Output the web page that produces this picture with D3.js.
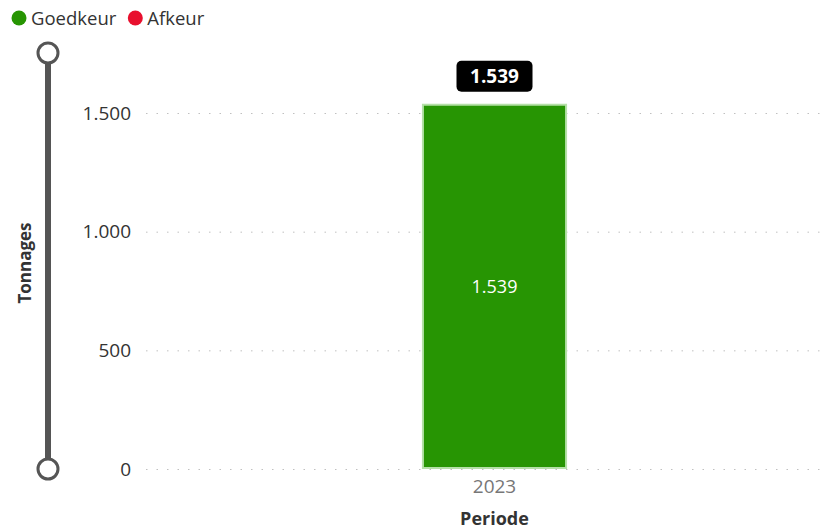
<!DOCTYPE html>
<html>
<head>
<meta charset="utf-8">
<script src="https://cdn.jsdelivr.net/npm/d3@7"></script>
<style>
  body { margin: 0; background: #fff; }
  svg { font-family: "Open Sans", "Noto Sans", sans-serif; display: block; }
</style>
</head>
<body>
<script>
const periods = ["2023"];
const goedkeur = [1539];
const yTicks = [0, 500, 1000, 1500];
const legendItems = ["Goedkeur", "Afkeur"];
const legendColors = ["#279503", "#e8102e"];

const width = 825;
const height = 530;

const fmt = d3.formatLocale({ decimal: ",", thousands: ".", grouping: [3], currency: ["€", ""] }).format(",.0f");

const svg = d3.select("body").append("svg")
  .attr("width", width)
  .attr("height", height);

const y = d3.scaleLinear().domain([0, 1500]).range([469, 113]);
const x = d3.scaleBand().domain(periods).range([150, 839]).padding(0.652);

// legend
let lx = 19;
legendItems.forEach((name, i) => {
  svg.append("circle").attr("cx", lx).attr("cy", 18).attr("r", 7.5).attr("fill", legendColors[i]);
  const t = svg.append("text").attr("x", lx + 12).attr("y", 24.5)
    .attr("font-size", 18.5).attr("fill", "#333").text(name);
  lx += 12 + t.node().getComputedTextLength() + 19;
});

// slider on the left
svg.append("line").attr("x1", 48).attr("x2", 48).attr("y1", 53).attr("y2", 469)
  .attr("stroke", "#555").attr("stroke-width", 6);
[53, 469].forEach(cy => {
  svg.append("circle").attr("cx", 48).attr("cy", cy).attr("r", 10)
    .attr("fill", "#fff").attr("stroke", "#555").attr("stroke-width", 3);
});

// gridlines
svg.append("g").selectAll("line").data(yTicks).join("line")
  .attr("x1", 146).attr("x2", 825)
  .attr("y1", d => y(d) + 0.5).attr("y2", d => y(d) + 0.5)
  .attr("stroke", "#c0c0c0").attr("stroke-width", 1)
  .attr("stroke-dasharray", "1.5 9");

// y axis
const yAxis = svg.append("g").attr("transform", "translate(131,0)")
  .call(d3.axisLeft(y).tickValues(yTicks).tickFormat(fmt).tickSize(0).tickPadding(0));
yAxis.select(".domain").remove();
yAxis.selectAll("text").attr("font-size", 19).attr("fill", "#333")
  .attr("font-family", "'Open Sans', 'Noto Sans', sans-serif");

// x axis
const xAxis = svg.append("g").attr("transform", "translate(0,479)")
  .call(d3.axisBottom(x).tickSize(0).tickPadding(0));
xAxis.select(".domain").remove();
xAxis.selectAll("text").attr("font-size", 19).attr("fill", "#777")
  .attr("font-family", "'Open Sans', 'Noto Sans', sans-serif");

// axis titles
svg.append("text").attr("x", x("2023") + x.bandwidth() / 2).attr("y", 525)
  .attr("text-anchor", "middle").attr("font-size", 18).attr("font-weight", "bold")
  .attr("fill", "#333").text("Periode");
svg.append("text").attr("transform", "translate(31,263) rotate(-90)")
  .attr("text-anchor", "middle").attr("font-size", 17).attr("font-weight", "bold")
  .attr("fill", "#333").text("Tonnages");

// bars
svg.append("g").selectAll("rect").data(goedkeur).join("rect")
  .attr("x", (d, i) => x(periods[i]) + 1)
  .attr("y", d => y(d) + 1)
  .attr("width", x.bandwidth() - 2)
  .attr("height", d => y(0) - y(d) - 2)
  .attr("fill", "#279503")
  .attr("stroke", "#b5e0a8").attr("stroke-width", 2);

// inner labels
svg.append("g").selectAll("text").data(goedkeur).join("text")
  .attr("x", (d, i) => x(periods[i]) + x.bandwidth() / 2)
  .attr("y", d => (y(d) + y(0)) / 2 + 7)
  .attr("text-anchor", "middle").attr("font-size", 18).attr("fill", "#fff")
  .text(d => fmt(d));

// total badge
goedkeur.forEach((d, i) => {
  const cx = x(periods[i]) + x.bandwidth() / 2;
  const top = y(d) - 43;
  svg.append("rect").attr("x", cx - 38).attr("y", top).attr("width", 76).attr("height", 31)
    .attr("rx", 5).attr("fill", "#000");
  svg.append("text").attr("x", cx).attr("y", top + 22.5).attr("text-anchor", "middle")
    .attr("font-size", 19).attr("font-weight", "bold").attr("fill", "#fff").text(fmt(d));
});
</script>
</body>
</html>
